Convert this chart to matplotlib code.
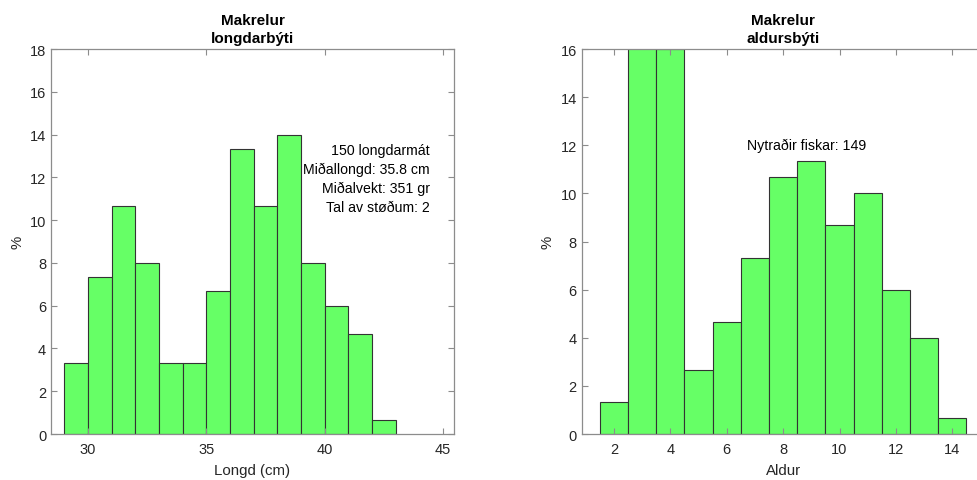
import matplotlib
matplotlib.use("Agg")
import matplotlib.pyplot as plt

plt.rcParams['font.family'] = ['Liberation Sans', 'DejaVu Sans']

# Length distribution (cm bins, percent)
length_edges = [29, 30, 31, 32, 33, 34, 35, 36, 37, 38, 39, 40, 41, 42]
length_pct = [3.33, 7.33, 10.67, 8.0, 3.33, 3.33, 6.67, 13.33, 10.67, 14.0, 8.0, 6.0, 4.67, 0.67]

# Age distribution (years, percent)
ages = [2, 3, 4, 5, 6, 7, 8, 9, 10, 11, 12, 13, 14]
age_pct = [1.33, 16.67, 16.0, 2.67, 4.67, 7.33, 10.67, 11.33, 8.67, 10.0, 6.0, 4.0, 0.67]

length_info = "150 longdarmát\nMiðallongd: 35.8 cm\nMiðalvekt: 351 gr\nTal av støðum: 2"
age_info = "Nytraðir fiskar: 149"

face = '#66ff66'
edge = '#333333'
axcol = '#8c8c8c'
txtcol = '#262626'

fig = plt.figure(figsize=(9.77, 4.81), dpi=100)
ax1 = fig.add_axes([0.0522, 0.0956, 0.4125, 0.8004])
ax2 = fig.add_axes([0.5954, 0.0956, 0.4125, 0.8004])


def style(ax):
    for s in ax.spines.values():
        s.set_color(axcol)
        s.set_linewidth(0.9)
    ax.tick_params(direction='in', length=4, width=0.8, color=axcol,
                   labelcolor=txtcol, labelsize=10.5, top=True, right=True)
    ax.tick_params(axis='x', pad=6)


# left: length
ax1.bar(length_edges, length_pct, width=1, align='edge', color=face,
        edgecolor=edge, linewidth=0.8)
ax1.set_xlim(28.44, 45.46)
ax1.set_ylim(0, 18)
ax1.set_xticks([30, 35, 40, 45])
ax1.set_yticks(range(0, 19, 2))
ax1.set_xlabel("Longd (cm)", fontsize=10.8, color=txtcol, labelpad=5)
ax1.set_ylabel("%", fontsize=10.8, color=txtcol, labelpad=4)
ax1.set_title("Makrelur\nlongdarbýti", fontsize=11, fontweight='bold',
              color='black', pad=5, linespacing=1.4)
ax1.text(44.45, 11.95, length_info, ha='right', va='center', fontsize=10.2,
         color='black', linespacing=1.45)
style(ax1)

# right: age
ax2.bar(ages, age_pct, width=1, color=face, edgecolor=edge, linewidth=0.8)
ax2.set_xlim(0.854, 15.15)
ax2.set_ylim(0, 16)
ax2.set_xticks(range(2, 15, 2))
ax2.set_yticks(range(0, 17, 2))
ax2.set_xlabel("Aldur", fontsize=10.8, color=txtcol, labelpad=5)
ax2.set_ylabel("%", fontsize=10.8, color=txtcol, labelpad=4)
ax2.set_title("Makrelur\naldursbýti", fontsize=11, fontweight='bold',
              color='black', pad=5, linespacing=1.4)
ax2.text(8.85, 12.0, age_info, ha='center', va='center', fontsize=10.2,
         color='black')
style(ax2)

fig.savefig("out.png", dpi=100)
